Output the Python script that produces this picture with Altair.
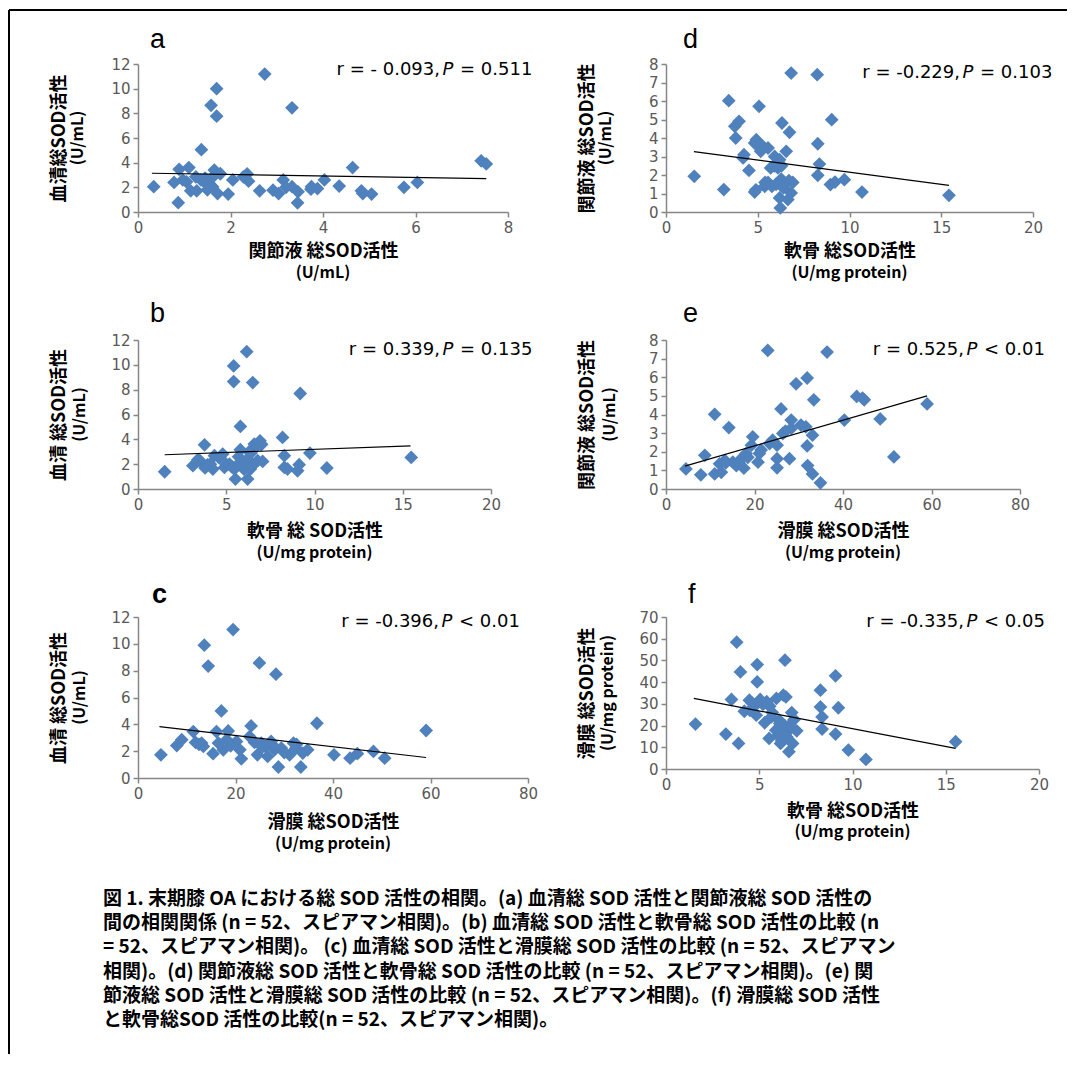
import altair as alt
import pandas as pd

# ---------------- data ----------------
# Panel a: synovial fluid (x) vs serum (y)
a_x = [0.34, 0.78, 0.89, 0.87, 0.97, 1.10, 1.14, 1.27, 1.37, 1.36, 1.47, 1.58, 1.70, 1.70, 1.65,
       1.61, 1.72, 1.78, 1.95, 2.05, 2.36, 2.39, 2.63, 2.74, 2.92, 3.04, 3.14, 3.33, 3.33, 3.45,
       3.46, 3.74, 3.75, 3.88, 4.03, 4.35, 4.64, 4.83, 4.86, 5.05, 5.75, 6.04, 7.42, 7.53,
       1.45, 1.55, 1.25, 1.05, 1.62, 2.28, 1.50, 3.20]
a_y = [2.05, 2.40, 3.46, 0.76, 2.60, 3.60, 1.72, 1.72, 5.05, 2.60, 2.30, 8.65, 10.0, 7.77, 3.40,
       2.05, 1.50, 3.10, 1.45, 2.60, 3.08, 2.50, 1.72, 11.18, 1.77, 1.50, 2.60, 8.45, 2.05, 0.74,
       1.64, 1.85, 2.05, 1.90, 2.60, 2.10, 3.60, 1.72, 1.50, 1.45, 2.00, 2.40, 4.15, 3.90,
       2.75, 2.25, 2.85, 2.45, 2.85, 2.85, 1.80, 2.00]
a_line_x = [0.30, 7.53]
a_line_y = [3.14, 2.70]

# Panel b: cartilage (x) vs serum (y)
b_x = [1.51, 3.11, 3.39, 3.77, 3.95, 4.24, 4.33, 4.80, 4.90, 5.18, 5.42, 5.42, 5.52, 5.46, 5.80,
       5.80, 5.93, 6.16, 6.21, 6.31, 6.37, 6.40, 6.50, 6.59, 6.78, 6.91, 6.97, 7.06, 8.19, 8.29,
       8.29, 8.47, 9.04, 9.13, 9.19, 9.74, 10.70, 15.48,
       3.50, 4.10, 4.60, 5.00, 5.30, 5.70, 6.00, 6.20, 6.50, 6.70, 7.00, 3.80, 5.60, 6.30]
b_y = [1.39, 1.88, 2.36, 3.56, 1.96, 1.61, 2.68, 2.81, 1.74, 2.01, 9.91, 8.65, 0.80, 1.61, 5.04,
       3.16, 2.14, 11.06, 0.80, 2.14, 1.61, 2.89, 8.57, 3.62, 2.28, 3.88, 3.56, 2.22, 4.15, 2.68,
       1.74, 1.61, 1.47, 1.96, 7.69, 2.89, 1.69, 2.54,
       2.30, 2.00, 2.50, 2.00, 1.80, 2.60, 1.60, 2.40, 1.90, 3.40, 3.60, 1.70, 1.90, 3.00]
b_line_x = [1.51, 15.44]
b_line_y = [2.76, 3.48]

# Panel c: synovium (x) vs serum (y)
c_x = [4.7, 7.95, 8.97, 11.35, 11.8, 13.05, 13.6, 14.4, 13.4, 15.4, 16.1, 17.1, 17.5, 18.2, 18.5,
       19.5, 20.2, 20.9, 21.2, 22.9, 23.2, 23.9, 24.5, 24.9, 25.3, 26.1, 26.6, 27.3, 28.0, 28.3,
       28.8, 29.4, 31.1, 31.9, 32.4, 33.4, 33.8, 34.8, 36.7, 40.2, 43.5, 45.0, 48.3, 50.6, 59.1,
       12.5, 16.5, 19.0, 25.5, 27.5, 30.0, 32.5]
c_y = [1.73, 2.42, 2.85, 3.46, 2.65, 2.60, 9.90, 8.34, 2.35, 1.81, 3.46, 5.00, 2.10, 2.85, 3.51,
       11.06, 2.72, 2.10, 1.43, 3.09, 3.88, 2.65, 1.73, 8.58, 2.60, 2.35, 1.61, 2.72, 2.10, 7.74,
       0.82, 2.23, 1.73, 2.60, 2.23, 0.82, 1.86, 2.10, 4.08, 1.73, 1.48, 1.81, 1.98, 1.48, 3.54,
       2.50, 2.60, 2.40, 2.30, 2.50, 1.90, 2.50]
c_line_x = [4.4, 59.1]
c_line_y = [3.83, 1.53]

# Panel d: cartilage (x) vs synovial fluid (y)
d_x = [1.54, 3.15, 3.42, 3.75, 3.98, 3.80, 4.25, 4.20, 4.52, 4.83, 4.83, 4.92, 5.07, 5.16, 5.28,
       5.56, 5.38, 5.56, 5.77, 5.70, 5.92, 6.19, 6.10, 6.19, 6.23, 6.32, 6.28, 6.43, 6.55, 6.82,
       6.73, 6.91, 6.82, 6.64, 8.24, 8.27, 8.36, 8.27, 9.03, 8.96, 9.21, 9.72, 10.68, 15.42,
       5.00, 5.40, 6.00, 6.40, 4.90, 6.70, 5.90, 6.30]
d_y = [1.93, 1.21, 6.02, 4.63, 4.90, 4.00, 3.10, 2.92, 2.25, 1.08, 3.73, 3.91, 5.71, 3.28, 3.55,
       3.46, 1.39, 1.60, 1.39, 2.38, 3.00, 2.83, 2.38, 0.76, 0.22, 4.81, 1.78, 1.48, 3.28, 7.51,
       4.31, 1.60, 1.03, 0.67, 7.42, 3.69, 2.59, 1.98, 4.99, 1.48, 1.62, 1.75, 1.08, 0.90,
       3.60, 1.60, 1.50, 1.30, 1.20, 1.70, 2.50, 2.50]
d_line_x = [1.52, 15.42]
d_line_y = [3.26, 1.44]

# Panel e: synovium (x) vs synovial fluid (y)
e_x = [4.5, 7.87, 8.77, 11.0, 11.0, 12.5, 12.1, 13.3, 14.2, 15.1, 15.9, 17.0, 17.6, 18.1, 19.3,
       19.6, 20.8, 21.1, 23.0, 23.4, 24.1, 25.1, 25.1, 25.1, 26.0, 26.4, 27.9, 28.3, 28.3, 29.4,
       30.5, 31.6, 31.9, 31.9, 32.0, 33.1, 33.1, 33.4, 34.9, 36.4, 40.3, 43.1, 44.4, 44.8, 48.4,
       51.5, 59.0, 13.5, 16.5, 18.5, 21.5, 27.0]
e_y = [1.08, 0.76, 1.81, 4.01, 0.81, 0.90, 1.35, 1.53, 3.30, 1.44, 1.26, 1.63, 1.12, 1.90, 2.35,
       2.80, 1.44, 1.90, 7.44, 2.44, 2.62, 2.35, 1.63, 1.14, 4.30, 2.98, 1.63, 3.70, 3.25, 5.65,
       3.43, 3.34, 5.96, 2.31, 1.26, 2.89, 0.81, 4.79, 0.33, 7.35, 3.70, 4.97, 4.88, 4.79, 3.76,
       1.72, 4.57, 1.40, 1.40, 1.70, 2.10, 3.10]
e_line_x = [4.27, 59.0]
e_line_y = [1.23, 5.00]

# Panel f: cartilage (x) vs synovium (y)
f_x = [1.58, 3.21, 3.51, 3.79, 3.89, 3.99, 4.20, 4.47, 4.80, 4.89, 4.89, 4.84, 5.05, 5.29, 5.38,
       5.56, 5.53, 5.65, 5.92, 5.89, 6.07, 6.14, 6.29, 6.38, 6.43, 6.38, 6.47, 6.59, 6.74, 6.79,
       6.87, 7.01, 8.28, 8.28, 8.37, 8.37, 9.09, 9.24, 9.09, 9.78, 10.72, 15.53,
       4.60, 5.20, 5.70, 6.00, 6.20, 6.50, 6.60, 5.40, 6.10, 4.50]
f_y = [20.7, 16.1, 32.0, 58.4, 11.8, 44.7, 26.6, 31.7, 29.4, 48.1, 40.1, 24.8, 32.0, 21.3, 30.5,
       28.9, 14.1, 24.0, 32.5, 17.9, 22.5, 11.8, 34.0, 50.1, 33.2, 19.8, 14.9, 8.0, 26.0, 11.8,
       22.8, 17.6, 36.3, 28.6, 24.0, 18.4, 42.9, 28.2, 16.1, 8.7, 4.4, 12.6,
       30.5, 29.8, 26.0, 15.5, 13.0, 17.0, 20.0, 31.0, 21.0, 27.0]
f_line_x = [1.49, 15.53]
f_line_y = [32.5, 9.5]

caption_lines = [
    "図 1. 末期膝 OA における総 SOD 活性の相関。(a) 血清総 SOD 活性と関節液総 SOD 活性の",
    "間の相関関係 (n = 52、スピアマン相関)。(b) 血清総 SOD 活性と軟骨総 SOD 活性の比較 (n",
    "= 52、スピアマン相関)。 (c) 血清総 SOD 活性と滑膜総 SOD 活性の比較 (n = 52、スピアマン",
    "相関)。(d) 関節液総 SOD 活性と軟骨総 SOD 活性の比較 (n = 52、スピアマン相関)。(e) 関",
    "節液総 SOD 活性と滑膜総 SOD 活性の比較 (n = 52、スピアマン相関)。(f) 滑膜総 SOD 活性",
    "と軟骨総SOD 活性の比較(n = 52、スピアマン相関)。",
]

BLUE = "#4F81BD"
ANN_FONT = "DejaVu Sans"
CJK = "Noto Sans CJK JP"


def panel(xs, ys, lx, ly, xmax, xstep, ymax, ystep, xtitle, ytitle, w, h,
          letter, letter_dx, letter_dy, letter_bold, ann1, ann3, p_x, p_y, xtpad,
          x_unit_dy, y_unit_dx):
    df = pd.DataFrame({"x": xs, "y": ys})
    ld = pd.DataFrame({"x": lx, "y": ly})
    one = pd.DataFrame({"k": [0]})
    xvals = list(range(0, xmax + 1, xstep))
    yvals = list(range(0, ymax + 1, ystep))
    xsc = alt.Scale(domain=[0, xmax], nice=False)
    ysc = alt.Scale(domain=[0, ymax], nice=False)
    xax = alt.Axis(values=xvals, title=xtitle[0], titlePadding=xtpad,
                   labelOverlap=False, labelFlush=False)
    yax = alt.Axis(values=yvals, title=ytitle[0],
                   labelOverlap=False, labelFlush=False)
    xenc = alt.X("x:Q", scale=xsc, axis=xax)
    yenc = alt.Y("y:Q", scale=ysc, axis=yax)
    pts = alt.Chart(df).mark_point(shape="diamond", filled=True, size=190, color=BLUE,
                                   opacity=1).encode(x=xenc, y=yenc)
    line = alt.Chart(ld).mark_line(color="black", strokeWidth=1.2).encode(x=xenc, y=yenc)
    # second (unit) lines of the axis titles, slightly smaller as in the figure
    x_unit = alt.Chart(one).mark_text(
        text=xtitle[1], align="center", baseline="middle", fontSize=16, font=CJK,
        fontWeight="bold", color="black"
    ).encode(x=alt.value(w / 2), y=alt.value(h + x_unit_dy))
    y_unit = alt.Chart(one).mark_text(
        text=ytitle[1], align="center", baseline="middle", fontSize=16, font=CJK,
        fontWeight="bold", color="black", angle=270
    ).encode(x=alt.value(y_unit_dx), y=alt.value(h / 2))
    t_letter = alt.Chart(one).mark_text(
        text=letter, align="left", baseline="alphabetic", fontSize=27,
        font="Liberation Sans", fontWeight="bold" if letter_bold else "normal", color="black"
    ).encode(x=alt.value(letter_dx), y=alt.value(letter_dy))
    t1 = alt.Chart(one).mark_text(
        text=ann1, align="right", baseline="middle", fontSize=18, font=ANN_FONT, color="black"
    ).encode(x=alt.value(p_x - 8), y=alt.value(p_y))
    tp = alt.Chart(one).mark_text(
        text="P", align="center", baseline="middle", fontSize=18, font=ANN_FONT,
        fontStyle="italic", color="black"
    ).encode(x=alt.value(p_x), y=alt.value(p_y))
    t3 = alt.Chart(one).mark_text(
        text=ann3, align="left", baseline="middle", fontSize=18, font=ANN_FONT, color="black"
    ).encode(x=alt.value(p_x + 12), y=alt.value(p_y))
    return alt.layer(pts, line, x_unit, y_unit, t_letter, t1, tp, t3).properties(
        width=w, height=h)


pa = panel(a_x, a_y, a_line_x, a_line_y, 8, 2, 12, 2,
           ["関節液 総SOD活性", "(U/mL)"], ["血清総SOD活性", "(U/mL)"], 370, 148,
           "a", 12, -16, False, "r = - 0.093,", "= 0.511", 310, 6, 7, 61, -60)
pd_ = panel(d_x, d_y, d_line_x, d_line_y, 20, 5, 8, 1,
            ["軟骨 総SOD活性", "(U/mg protein)"], ["関節液 総SOD活性", "(U/mL)"], 367, 148,
            "d", 17, -16, False, "r = -0.229,", "= 0.103", 302, 9, 7, 61, -60)
pb = panel(b_x, b_y, b_line_x, b_line_y, 20, 5, 12, 2,
           ["軟骨 総 SOD活性", "(U/mg protein)"], ["血清 総SOD活性", "(U/mL)"], 353, 149,
           "b", 12, -18, False, "r = 0.339,", "= 0.135", 310, 10, 10, 64, -58)
pe = panel(e_x, e_y, e_line_x, e_line_y, 80, 20, 8, 1,
           ["滑膜 総SOD活性", "(U/mg protein)"], ["関節液 総SOD活性", "(U/mL)"], 354, 149,
           "e", 17, -18, False, "r = 0.525,", "< 0.01", 306, 10, 10, 64, -56)
pc = panel(c_x, c_y, c_line_x, c_line_y, 80, 20, 12, 2,
           ["滑膜 総SOD活性", "(U/mg protein)"], ["血清 総SOD活性", "(U/mL)"], 390, 161,
           "c", 14, -14, True, "r = -0.396,", "< 0.01", 309, 5, 12, 66, -58)
pf = panel(f_x, f_y, f_line_x, f_line_y, 20, 5, 70, 10,
           ["軟骨 総SOD活性", "(U/mg protein)"], ["滑膜 総SOD活性", "(U/mg protein)"], 373, 152,
           "f", 22, -14, False, "r = -0.335,", "< 0.05", 306, 5, 10, 63, -58)

grid = alt.concat(pa, pd_, pb, pe, pc, pf, columns=2,
                  spacing={"row": 128, "column": 138}, bounds="flush")

cap_df = pd.DataFrame({"i": list(range(len(caption_lines))), "t": caption_lines})
caption = alt.Chart(cap_df).mark_text(
    align="left", baseline="middle", font=CJK, fontWeight="bold",
    fontSize=19, color="black"
).encode(
    x=alt.value(-35),
    y=alt.Y("i:Q", scale=alt.Scale(domain=[0, 5], reverse=True), axis=None),
    text="t:N",
).properties(width=900, height=121)

body = alt.vconcat(grid, caption, spacing=38)

rule_df = pd.DataFrame({"k": [0]})
frame_top = alt.Chart(rule_df).mark_rule(color="black", strokeWidth=2).encode(
    x=alt.value(0), x2=alt.value(1058), y=alt.value(-54)
)
frame_left = alt.Chart(rule_df).mark_rule(color="black", strokeWidth=2).encode(
    x=alt.value(0), y=alt.value(-54), y2=alt.value(990)
)
frame = alt.layer(frame_top, frame_left).properties(width=1, height=1)

chart = alt.hconcat(frame, body, spacing=128, bounds="flush").properties(
    padding={"left": 0, "top": 1, "right": 0, "bottom": 0},
    background="white",
).configure_view(stroke=None).configure_axis(
    titleFont=CJK, titleFontWeight="bold", titleFontSize=18,
    titleColor="black",
    labelFont="DejaVu Sans", labelFontSize=15, labelColor="#595959",
    labelOverlap=False, labelFlush=False,
    domainColor="#868686", tickColor="#868686", domainWidth=1.5, tickWidth=1.5,
    tickSize=5, grid=False, labelPadding=3,
).configure_axisY(minExtent=36, maxExtent=36, titlePadding=34)

chart.save("out.html", embed_options={"renderer": "svg", "actions": False})
